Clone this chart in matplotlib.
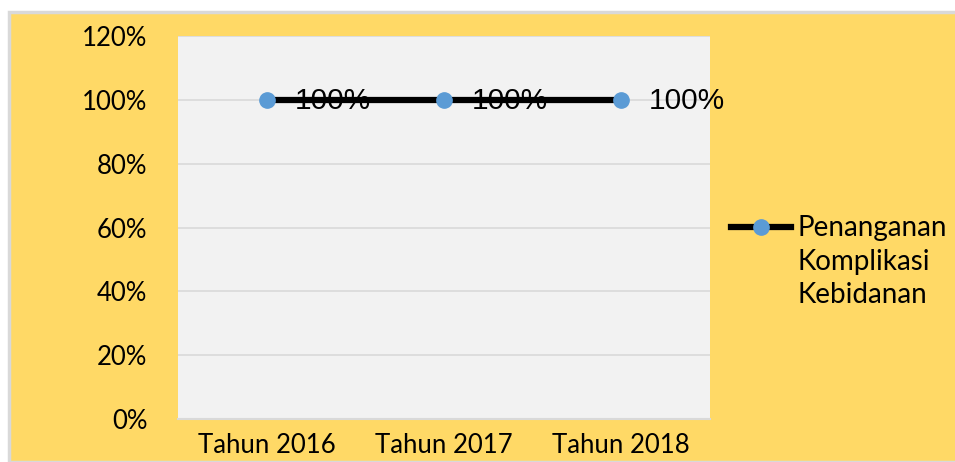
import matplotlib.pyplot as plt
from matplotlib.patches import Rectangle

years = ['Tahun 2016', 'Tahun 2017', 'Tahun 2018']
penanganan = [1.0, 1.0, 1.0]
series_name = ['Penanganan', 'Komplikasi', 'Kebidanan']
yticks = [0, 0.2, 0.4, 0.6, 0.8, 1.0, 1.2]

W, H = 955, 462
fig = plt.figure(figsize=(W / 100, H / 100), dpi=100, facecolor='white')
# yellow chart area with thin grey border (right/bottom cut off)
fig.patches.append(Rectangle((9 / W, 0), 1, 1 - 12 / H, transform=fig.transFigure,
                             facecolor='#FFD966', edgecolor='#D9D9D9', linewidth=2.5,
                             zorder=-5))

ax = fig.add_axes([178 / W, 43 / H, 532 / W, 383 / H])
ax.set_facecolor('#F2F2F2')
x = list(range(len(years)))
ax.plot(x, penanganan, color='black', linewidth=4.5, marker='o', markersize=11,
        markerfacecolor='#5B9BD5', markeredgecolor='#5B9BD5', label=series_name[0],
        zorder=3)
for xi, v in zip(x, penanganan):
    ax.annotate('{:.0f}%'.format(v * 100), (xi, v), xytext=(20, -1),
                textcoords='offset points', va='center', ha='left',
                fontsize=21.5, family='Liberation Sans', zorder=4)

ax.set_xlim(-0.5, 2.5)
ax.set_ylim(0, 1.2)
ax.set_yticks(yticks)
ax.set_yticklabels(['{:.0f}%'.format(t * 100) for t in yticks], family='Lato', fontsize=18.5)
ax.set_xticks(x)
ax.set_xticklabels(years, family='Lato', fontsize=18.5)
ax.grid(axis='y', color='#D9D9D9', linewidth=1.2)
ax.set_axisbelow(True)
for s in ['left', 'top', 'right']:
    ax.spines[s].set_visible(False)
ax.spines['bottom'].set_color('#D9D9D9')
ax.spines['bottom'].set_linewidth(1.5)
ax.tick_params(axis='both', length=0)
ax.tick_params(axis='y', pad=22)
ax.tick_params(axis='x', pad=10)

leg_size = 20
leg = ax.legend(loc='center left', bbox_to_anchor=(1.04, 0.498), bbox_transform=ax.transAxes,
                frameon=False, prop={'family': 'Lato', 'size': leg_size}, handlelength=2.15,
                handletextpad=0.25, borderaxespad=0, borderpad=0)

# remaining lines of the series name, under the legend text
fig.canvas.draw()
bb = leg.get_texts()[0].get_window_extent()
fig.text(bb.x0 / W, (bb.y0 - 8) / H, '\n'.join(series_name[1:]), va='top', ha='left',
         family='Lato', fontsize=leg_size, linespacing=1.3)

fig.savefig('out.png', dpi=100, facecolor=fig.get_facecolor())
